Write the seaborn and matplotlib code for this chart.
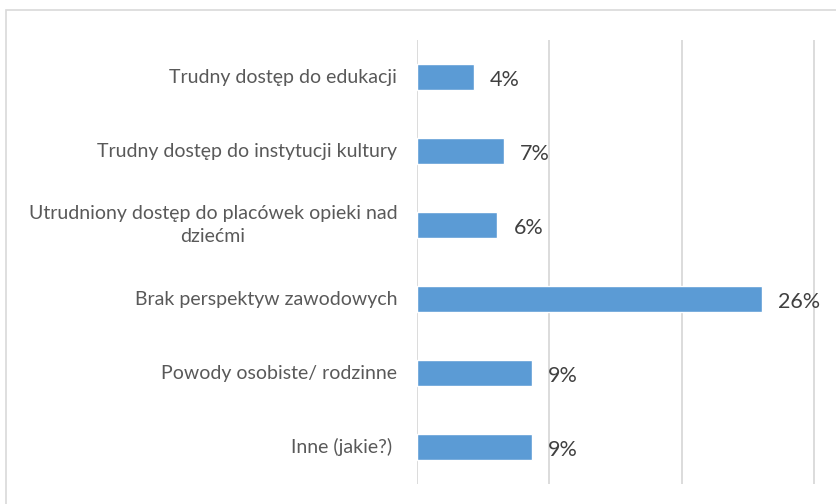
import matplotlib
matplotlib.use("Agg")
import matplotlib.pyplot as plt
import matplotlib.transforms as mtransforms
import seaborn as sns
import pandas as pd
from matplotlib.patches import Rectangle

# data
categories = [
    "Trudny dostęp do edukacji",
    "Trudny dostęp do instytucji kultury",
    "Utrudniony dostęp do placówek opieki nad\ndziećmi",
    "Brak perspektyw zawodowych",
    "Powody osobiste/ rodzinne",
    "Inne (jakie?) ",
]
values = [4.3, 6.6, 6.1, 26.1, 8.7, 8.7]
value_labels = ["4%", "7%", "6%", "26%", "9%", "9%"]
x_ticks = [0, 10, 20, 30]

sns.set_style("white")
plt.rcParams['font.family'] = ['Lato', 'DejaVu Sans']

fig = plt.figure(figsize=(8.36, 5.04), dpi=100)
ax = fig.add_axes([416.7 / 836, 1 - 484 / 504, 398 / 836, 444 / 504])

df = pd.DataFrame({"kategoria": categories, "udzial": values})
sns.barplot(data=df, x="udzial", y="kategoria", orient="h",
            color="#5B9BD5", saturation=1, width=0.35, ax=ax)

# gridlines, no tick labels on x
ax.set_xlim(0, 30.05)
ax.set_xticks(x_ticks)
ax.xaxis.grid(True, color="#D9D9D9", linewidth=1.3)
ax.set_axisbelow(True)
ax.tick_params(axis="x", labelbottom=False, length=0)

# category labels drawn by hand so the wrapped one can be centred
ax.tick_params(axis="y", length=0, labelleft=False)
lab_trans = mtransforms.offset_copy(ax.get_yaxis_transform(), fig=fig,
                                    x=-14, y=0, units="points")
for i, cat in enumerate(categories):
    ax.text(0, i, cat, transform=lab_trans, ha="right", va="center",
            multialignment="center", linespacing=1.4,
            fontsize=14, color="#595959")

for s in ax.spines.values():
    s.set_visible(False)
ax.set_xlabel("")
ax.set_ylabel("")

# value labels next to the bar ends
for i, (v, lab) in enumerate(zip(values, value_labels)):
    ax.annotate(lab, (v, i), xytext=(11.5, -1.8), textcoords="offset points",
                va="center", ha="left", fontsize=15.5, color="#404040")

# light chart frame
fig.patches.append(Rectangle((6 / 836, -0.1), 1.0, 1.1 - 10 / 504, fill=False,
                             edgecolor="#D9D9D9", linewidth=1.2,
                             transform=fig.transFigure))

fig.savefig("out.png", dpi=100)
